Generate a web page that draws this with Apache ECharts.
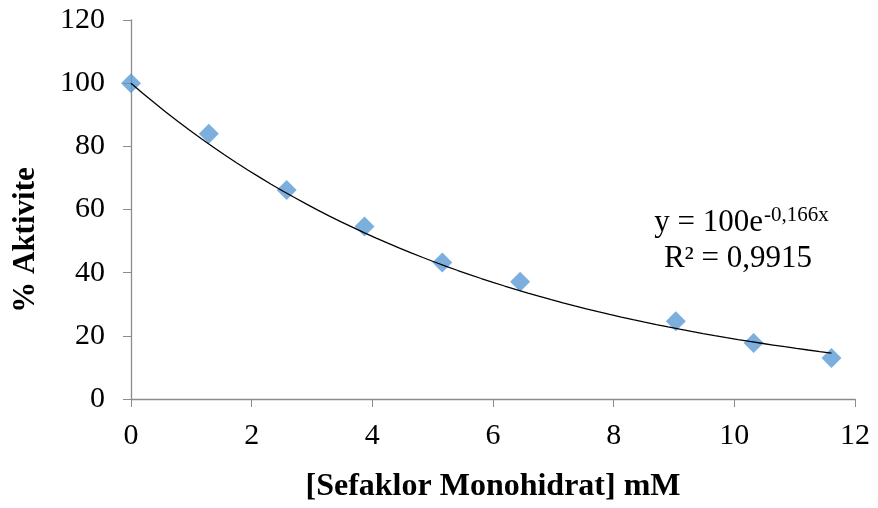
<!DOCTYPE html>
<html>
<head>
<meta charset="utf-8">
<script src="https://cdn.jsdelivr.net/npm/echarts@6/dist/echarts.min.js"></script>
<style>
  html, body { margin: 0; padding: 0; background: #fff; }
  #main { width: 878px; height: 508px; }
</style>
</head>
<body>
<div id="main"></div>
<script>
// olcum noktalari
var concMM = [0, 1.29, 2.58, 3.87, 5.16, 6.45, 9.03, 10.32, 11.61];
var activity = [100, 84, 66.2, 54.6, 43.2, 37.1, 24.6, 17.7, 13];
var xTicks = [0, 2, 4, 6, 8, 10, 12];
var yTicks = [0, 20, 40, 60, 80, 100, 120];

// ustel trend cizgisi: y = A e^(k x)
var trendA = 100;
var trendK = -0.166;
var trendSteps = 60;

var points = concMM.map(function (x, i) { return [x, activity[i]]; });
var trend = [];
var xEnd = concMM[concMM.length - 1];
for (var i = 0; i <= trendSteps; i++) {
  var x = xEnd * i / trendSteps;
  trend.push([x, trendA * Math.exp(trendK * x)]);
}

var serif = '"Liberation Serif", "DejaVu Serif", serif';
var myChart = echarts.init(document.getElementById('main'));

option = {
  animation: false,
  grid: { left: 131, right: 23, top: 20, bottom: 109, containLabel: false },
  xAxis: {
    type: 'value',
    min: xTicks[0],
    max: xTicks[xTicks.length - 1],
    interval: 2,
    name: '[Sefaklor Monohidrat] mM',
    nameLocation: 'middle',
    nameGap: 72,
    nameTextStyle: { fontFamily: serif, fontWeight: 'bold', fontSize: 32, color: '#000' },
    axisLine: { lineStyle: { color: '#8c8c8c', width: 1.3 } },
    axisTick: { show: true, length: 8, lineStyle: { color: '#8c8c8c' } },
    axisLabel: { fontFamily: serif, fontSize: 30, color: '#000', margin: 22 },
    splitLine: { show: false }
  },
  yAxis: {
    type: 'value',
    min: yTicks[0],
    max: yTicks[yTicks.length - 1],
    interval: 20,
    axisLine: { show: true, lineStyle: { color: '#8c8c8c', width: 1.3 } },
    axisTick: { show: true, length: 8, lineStyle: { color: '#8c8c8c' } },
    axisLabel: { fontFamily: serif, fontSize: 30, color: '#000', margin: 26 },
    splitLine: { show: false }
  },
  graphic: [
    {
      type: 'text',
      x: 26, y: 240,
      rotation: Math.PI / 2,
      style: {
        text: '% Aktivite',
        font: 'bold 31px ' + serif,
        fill: '#000',
        align: 'center',
        verticalAlign: 'middle'
      }
    },
    {
      type: 'text',
      x: 763, y: 207,
      style: { text: 'y = 100e', font: '31px ' + serif, fill: '#000', align: 'right', verticalAlign: 'top' }
    },
    {
      type: 'text',
      x: 764, y: 205,
      style: { text: '-0,166x', font: '21px ' + serif, fill: '#000', align: 'left', verticalAlign: 'top' }
    },
    {
      type: 'text',
      x: 738, y: 243,
      style: { text: 'R² = 0,9915', font: '31px ' + serif, fill: '#000', align: 'center', verticalAlign: 'top' }
    }
  ],
  series: [
    {
      name: 'trend',
      type: 'line',
      data: trend,
      showSymbol: false,
      smooth: false,
      lineStyle: { color: '#000', width: 1.3 },
      z: 3
    },
    {
      name: 'aktivite',
      type: 'scatter',
      data: points,
      symbol: 'diamond',
      symbolSize: [20, 20],
      itemStyle: { color: '#5b9bd5' },
      z: 2
    }
  ]
};

myChart.setOption(option);
</script>
</body>
</html>
